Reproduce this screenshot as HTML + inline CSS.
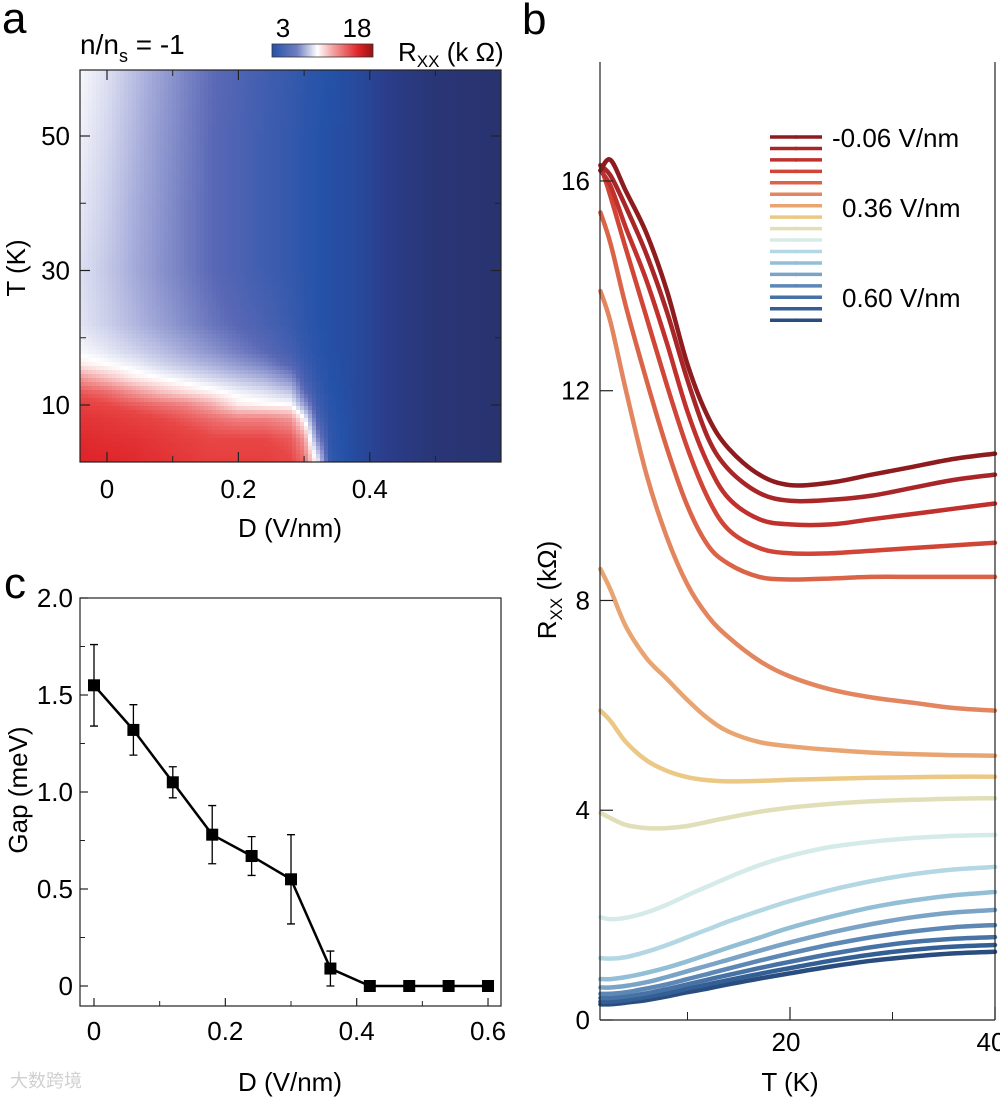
<!DOCTYPE html>
<html><head><meta charset="utf-8">
<style>
html,body{margin:0;padding:0;background:#fff;}
svg{display:block;font-family:"Liberation Sans","Noto Sans CJK SC",sans-serif;}
</style></head>
<body>
<svg id="fig" width="1000" height="1098" viewBox="0 0 1000 1098" xmlns="http://www.w3.org/2000/svg">
  <defs>
    <linearGradient id="cbar" x1="0" x2="1" y1="0" y2="0">
      <stop offset="0" stop-color="#2452a8"/><stop offset="0.25" stop-color="#6f7fc2"/>
      <stop offset="0.45" stop-color="#ffffff"/><stop offset="0.6" stop-color="#f3a3a3"/>
      <stop offset="0.85" stop-color="#e0262a"/><stop offset="1" stop-color="#9a1010"/>
    </linearGradient>
  </defs>
  <g id="panelA">
    <text x="2" y="33" font-size="44">a</text>
    <text x="80" y="54" font-size="28">n/n<tspan font-size="18" dy="8">s</tspan><tspan dy="-8"> = -1</tspan></text>
    <rect x="272" y="44" width="101" height="13" fill="url(#cbar)" stroke="#333" stroke-width="0.8"/>
    <text x="283" y="37" font-size="26" text-anchor="middle">3</text>
    <text x="357" y="37" font-size="26" text-anchor="middle">18</text>
    <text x="398" y="61" font-size="26">R<tspan font-size="17" dy="6">XX</tspan><tspan dy="-6"> (k Ω)</tspan></text>
    <g id="heat"></g>
    <rect x="80" y="70" width="421" height="392" fill="none" stroke="#222" stroke-width="1.2"/>
    <g id="aAxes"></g>
    <text transform="translate(25,268) rotate(-90)" font-size="26" text-anchor="middle">T (K)</text>
    <text x="290" y="537" font-size="26" text-anchor="middle">D (V/nm)</text>
  </g>
  <g id="panelC">
    <text x="4" y="598" font-size="44">c</text>
    <rect x="80" y="598" width="421" height="408" fill="none" stroke="#222" stroke-width="1.2"/>
    <g id="cAxes"></g>
    <g id="cData"></g>
    <text transform="translate(27,790) rotate(-90)" font-size="26" text-anchor="middle">Gap (meV)</text>
    <text x="290" y="1091" font-size="26" text-anchor="middle">D (V/nm)</text>
    <text x="10" y="1087" font-size="18" fill="#d0d0d0">大数跨境</text>
  </g>
  <g id="panelB">
    <text x="522" y="34" font-size="44">b</text>
    <g id="bData"></g>
    <g id="legend"></g>
    <line x1="600" y1="62" x2="600" y2="1020" stroke="#222" stroke-width="1.2"/>
    <line x1="600" y1="1020" x2="995" y2="1020" stroke="#222" stroke-width="1.2"/>
    <line x1="995" y1="62" x2="995" y2="1020" stroke="#222" stroke-width="1.2"/>
    <g id="bAxes"></g>
    <text transform="translate(556,590) rotate(-90)" font-size="26" text-anchor="middle">R<tspan font-size="17" dy="6">XX</tspan><tspan dy="-6"> (kΩ)</tspan></text>
    <text x="790" y="1091" font-size="26" text-anchor="middle">T (K)</text>
  </g>
</svg>
<script>
const NS="http://www.w3.org/2000/svg";
// ---------- Panel a data ----------
const heatD=[-0.04,0,0.04,0.08,0.12,0.16,0.2,0.24,0.28,0.3,0.32,0.34,0.38,0.44,0.5,0.6];
const heatT=[2,5,8,10,12,14,16,18,22,30,40,50,60];
const heatR=[
[16,15.8,15.5,15,14.5,14,14,14,13.5,12.5,8.5,3.5,2.6,1.8,1.3,1.1],
[15.5,15.2,15,14.5,14,13.5,13.5,13.5,13,11.5,6,3.4,2.6,1.8,1.3,1.1],
[14.8,14.5,14,13.5,13,12.5,12,12,11.5,9,4.5,3.3,2.6,1.8,1.3,1.1],
[14,13.5,13,12.5,12,11,9.5,9.2,9.0,6.5,4,3.2,2.6,1.8,1.3,1.1],
[13,12.5,11.5,10.5,9.8,9.2,8.6,8.2,7.5,5,3.7,3.1,2.6,1.8,1.3,1.1],
[11.5,10.5,9.5,9.0,8.5,8.0,7.5,7.0,6.0,4.3,3.5,3.0,2.6,1.8,1.3,1.1],
[9.5,9.0,8.6,8.0,7.5,7.0,6.4,5.8,4.8,3.9,3.3,3.0,2.6,1.8,1.3,1.1],
[8.8,8.4,7.9,7.4,6.8,6.2,5.6,5.0,4.2,3.6,3.2,2.9,2.6,1.8,1.3,1.1],
[8.3,7.8,7.2,6.6,6.0,5.4,4.9,4.4,3.8,3.4,3.1,2.9,2.6,1.8,1.3,1.1],
[8.2,7.6,6.9,6.2,5.6,5.0,4.5,4.0,3.6,3.3,3.1,2.9,2.6,1.8,1.3,1.1],
[8.4,7.8,7.0,6.3,5.6,5.0,4.5,4.0,3.6,3.3,3.1,2.9,2.6,1.8,1.3,1.1],
[8.6,8.0,7.2,6.4,5.7,5.0,4.5,4.0,3.6,3.3,3.1,2.9,2.6,1.8,1.3,1.1],
[8.8,8.2,7.4,6.6,5.8,5.1,4.6,4.1,3.7,3.4,3.2,3.0,2.6,1.8,1.3,1.1]];
const aXTicks=[0,0.2,0.4];
const aXMinor=[0.1,0.3,0.5];
const aYTicks=[10,30,50];
const aYMinor=[20,40];
// ---------- Panel b data ----------
const curveT=[1.5,2.5,4,6,8,10,12,14,17,20,24,28,32,36,40];
const curveR=[
[16.2,16.4,15.8,15.0,13.9,12.5,11.5,10.9,10.4,10.2,10.25,10.4,10.55,10.7,10.8],
[16.3,16.1,15.5,14.6,13.5,12.2,11.1,10.5,10.05,9.9,9.92,10.0,10.15,10.3,10.4],
[16.2,15.9,15.1,14.1,12.9,11.6,10.6,9.95,9.55,9.45,9.45,9.55,9.65,9.75,9.85],
[16.3,15.7,14.7,13.4,12.1,10.9,9.95,9.35,9.0,8.9,8.9,8.95,9.0,9.05,9.1],
[15.4,14.8,13.6,12.2,10.9,9.8,9.05,8.7,8.45,8.4,8.42,8.45,8.45,8.45,8.45],
[13.9,13.3,12.0,10.4,9.2,8.3,7.7,7.3,6.85,6.55,6.3,6.15,6.05,5.95,5.9],
[8.6,8.2,7.5,6.9,6.5,6.1,5.75,5.5,5.3,5.22,5.15,5.1,5.07,5.05,5.04],
[5.9,5.7,5.3,4.95,4.75,4.63,4.57,4.55,4.56,4.58,4.6,4.62,4.63,4.64,4.64],
[3.95,3.85,3.72,3.66,3.66,3.7,3.78,3.86,3.97,4.05,4.12,4.17,4.2,4.22,4.23],
[1.96,1.92,1.95,2.05,2.2,2.38,2.55,2.72,2.95,3.13,3.3,3.4,3.47,3.51,3.53],
[1.18,1.17,1.2,1.3,1.43,1.58,1.73,1.88,2.08,2.27,2.48,2.65,2.78,2.87,2.92],
[0.78,0.78,0.82,0.9,1.0,1.12,1.25,1.38,1.57,1.76,1.97,2.15,2.28,2.38,2.44],
[0.62,0.62,0.65,0.72,0.82,0.93,1.04,1.15,1.32,1.48,1.67,1.83,1.96,2.05,2.1],
[0.5,0.5,0.53,0.6,0.68,0.78,0.88,0.98,1.13,1.27,1.44,1.58,1.69,1.77,1.81],
[0.42,0.42,0.45,0.51,0.59,0.68,0.77,0.86,0.99,1.11,1.26,1.39,1.49,1.55,1.58],
[0.35,0.35,0.38,0.44,0.51,0.6,0.68,0.76,0.88,0.99,1.13,1.25,1.34,1.4,1.43],
[0.3,0.3,0.33,0.38,0.45,0.53,0.6,0.68,0.79,0.89,1.02,1.13,1.21,1.27,1.3]];
const curveColors=["#8e1b1e","#a82628","#c0312e","#d04535","#db6448","#e3855f","#e9a571","#ecc885","#e1dfb8","#d5ebe9","#b4d8e3","#93bfd6","#7aa3c6","#5d87b5","#4672a6","#335f95","#284d7e"];
const legendLabels=["-0.06 V/nm","","","","","","","0.36 V/nm","","","","","","","","0.60 V/nm",""];
const bXTicks=[20,40];
const bXMinor=[10,30];
const bYTicks=[0,4,8,12,16];
// ---------- Panel c data ----------
const gapD=[0,0.06,0.12,0.18,0.24,0.30,0.36,0.42,0.48,0.54,0.60];
const gapV=[1.55,1.32,1.05,0.78,0.67,0.55,0.09,0,0,0,0];
const gapErr=[0.21,0.13,0.08,0.15,0.10,0.23,0.09,0,0,0,0];
const cXTicks=[0,0.2,0.4,0.6];
const cXMinor=[0.1,0.3,0.5];
const cYTicks=[0,0.5,1.0,1.5,2.0];
const cYLabels=["0","0.5","1.0","1.5","2.0"];
const cYMinor=[0.25,0.75,1.25,1.75];

const axA=d=>107+d*657, ayA=t=>405-(t-10)*6.725;
const axB=t=>585+t*10.25, ayB=r=>1020-r*52.44;
const axC=d=>94+d*656.7, ayC=g=>986-g*194;

function mk(tag,attrs,parent){const e=document.createElementNS(NS,tag);for(const k in attrs)e.setAttribute(k,attrs[k]);parent.appendChild(e);return e;}

const cmapStops=[[1.0,[40,50,108]],[2.0,[43,62,140]],[3,[36,82,168]],[5,[90,104,182]],[7,[170,176,220]],[9,[255,255,255]],[11,[244,170,170]],[13.5,[232,70,70]],[16,[222,36,40]],[18,[150,16,16]]];
function cmap(v){if(v<=cmapStops[0][0])return cmapStops[0][1];for(let i=1;i<cmapStops.length;i++){if(v<=cmapStops[i][0]){const a=cmapStops[i-1],b=cmapStops[i];const f=(v-a[0])/(b[0]-a[0]);return a[1].map((c,j)=>Math.round(c+(b[1][j]-c)*f));}}return cmapStops[cmapStops.length-1][1];}
function interp1(arr,v){if(v<=arr[0])return[0,0];for(let i=1;i<arr.length;i++)if(v<=arr[i])return[i-1,(v-arr[i-1])/(arr[i]-arr[i-1])];return[arr.length-2,1];}
function heatVal(d,t){const[i,fx]=interp1(heatD,d);const[j,fy]=interp1(heatT,t);const a=heatR[j][i],b=heatR[j][i+1],c=heatR[j+1][i],e=heatR[j+1][i+1];return (a*(1-fx)+b*fx)*(1-fy)+(c*(1-fx)+e*fx)*fy;}

(function(){const g=document.getElementById('heat');const step=4;
for(let py=70;py<462;py+=step){for(let px=80;px<501;px+=step){
 const d=(px+step/2-107)/657, t=10-(py+step/2-405)/6.725;
 const c=cmap(heatVal(d,t));
 const r=mk('rect',{x:px,y:py,width:Math.min(step,501-px)+0.5,height:Math.min(step,462-py)+0.5,fill:`rgb(${c[0]},${c[1]},${c[2]})`},g);
 
 
}}})();

(function(){const g=document.getElementById('aAxes');
aXTicks.forEach(v=>{const x=axA(v);mk('line',{x1:x,y1:462,x2:x,y2:452,stroke:'#222','stroke-width':1.2},g);mk('line',{x1:x,y1:70,x2:x,y2:80,stroke:'#222','stroke-width':1.2},g);
 const t=mk('text',{x:x,y:498,'font-size':26,'text-anchor':'middle'},g);t.textContent=String(v);
 
 });
aXMinor.forEach(v=>{const x=axA(v);mk('line',{x1:x,y1:462,x2:x,y2:456,stroke:'#222'},g);mk('line',{x1:x,y1:70,x2:x,y2:76,stroke:'#222'},g);});
aYTicks.forEach(v=>{const y=ayA(v);mk('line',{x1:80,y1:y,x2:90,y2:y,stroke:'#222','stroke-width':1.2},g);mk('line',{x1:501,y1:y,x2:491,y2:y,stroke:'#222','stroke-width':1.2},g);
 const t=mk('text',{x:70,y:y+9,'font-size':26,'text-anchor':'end'},g);t.textContent=String(v);
 
 });
aYMinor.forEach(v=>{const y=ayA(v);mk('line',{x1:80,y1:y,x2:86,y2:y,stroke:'#222'},g);mk('line',{x1:501,y1:y,x2:495,y2:y,stroke:'#222'},g);});
})();

function smoothPath(pts){let d=`M${pts[0][0].toFixed(1)},${pts[0][1].toFixed(1)}`;for(let i=0;i<pts.length-1;i++){const p0=pts[i-1]||pts[i],p1=pts[i],p2=pts[i+1],p3=pts[i+2]||p2;
 const c1=[p1[0]+(p2[0]-p0[0])/6,p1[1]+(p2[1]-p0[1])/6],c2=[p2[0]-(p3[0]-p1[0])/6,p2[1]-(p3[1]-p1[1])/6];
 d+=` C${c1[0].toFixed(1)},${c1[1].toFixed(1)} ${c2[0].toFixed(1)},${c2[1].toFixed(1)} ${p2[0].toFixed(1)},${p2[1].toFixed(1)}`;}return d;}
(function(){const g=document.getElementById('bData');
for(let s=curveR.length-1;s>=0;s--){const pts=curveT.map((t,i)=>[axB(t),ayB(curveR[s][i])]);
 const p=mk('path',{d:smoothPath(pts),fill:'none',stroke:curveColors[s],'stroke-width':4.5,'stroke-linecap':'round'},g);
 
 }
const lg=document.getElementById('legend');
curveColors.forEach((c,i)=>{const y=137+i*11.45;
 const l=mk('line',{x1:770,y1:y,x2:822,y2:y,stroke:c,'stroke-width':3.5},lg);
 
 
 mk('circle',{cx:796,cy:y,r:1.8,fill:c},lg);
 if(legendLabels[i]){const t=mk('text',{x:i===0?832:842,y:y+(i===0?10:(i===7?0:-2)),'font-size':26},lg);t.textContent=legendLabels[i];
  
  }});
const ga=document.getElementById('bAxes');
bYTicks.forEach(v=>{const y=ayB(v);mk('line',{x1:600,y1:y,x2:613,y2:y,stroke:'#222','stroke-width':1.2},ga);
 const t=mk('text',{x:590,y:y+9,'font-size':26,'text-anchor':'end'},ga);t.textContent=String(v);
 
 });
bXTicks.forEach(v=>{const x=axB(v);mk('line',{x1:x,y1:1020,x2:x,y2:1007,stroke:'#222','stroke-width':1.2},ga);
 const t=mk('text',{x:x-4,y:1051,'font-size':26,'text-anchor':'middle'},ga);t.textContent=String(v);
 
 });
bXMinor.forEach(v=>{const x=axB(v);mk('line',{x1:x,y1:1020,x2:x,y2:1012,stroke:'#222'},ga);});
})();

(function(){const g=document.getElementById('cAxes');
cXTicks.forEach(v=>{const x=axC(v);mk('line',{x1:x,y1:1006,x2:x,y2:998,stroke:'#222','stroke-width':1.2},g);
 const t=mk('text',{x:x,y:1040,'font-size':26,'text-anchor':'middle'},g);t.textContent=String(v);
 
 });
cXMinor.forEach(v=>{const x=axC(v);mk('line',{x1:x,y1:1006,x2:x,y2:1001,stroke:'#222'},g);});
cYTicks.forEach((v,i)=>{const y=ayC(v);mk('line',{x1:80,y1:y,x2:88,y2:y,stroke:'#222','stroke-width':1.2},g);
 const t=mk('text',{x:73,y:y+9,'font-size':26,'text-anchor':'end'},g);t.textContent=cYLabels[i];
 
 });
cYMinor.forEach(v=>{const y=ayC(v);mk('line',{x1:80,y1:y,x2:85,y2:y,stroke:'#222'},g);});
const gd=document.getElementById('cData');
const line=mk('polyline',{points:gapD.map((d,i)=>axC(d)+','+ayC(gapV[i])).join(' '),fill:'none',stroke:'#000','stroke-width':2.5},gd);


gapD.forEach((d,i)=>{const x=axC(d),y=ayC(gapV[i]);
 if(gapErr[i]>0){const y1=ayC(gapV[i]+gapErr[i]),y2=ayC(gapV[i]-gapErr[i]);
  const e=mk('path',{d:`M${x},${y1}V${y2}M${x-4},${y1}H${x+4}M${x-4},${y2}H${x+4}`,stroke:'#000','stroke-width':1.3,fill:'none'},gd);
  
  }
 const m=mk('rect',{x:x-6,y:y-6,width:12,height:12,fill:'#000'},gd);
 
 });
})();
</script>
</body></html>
